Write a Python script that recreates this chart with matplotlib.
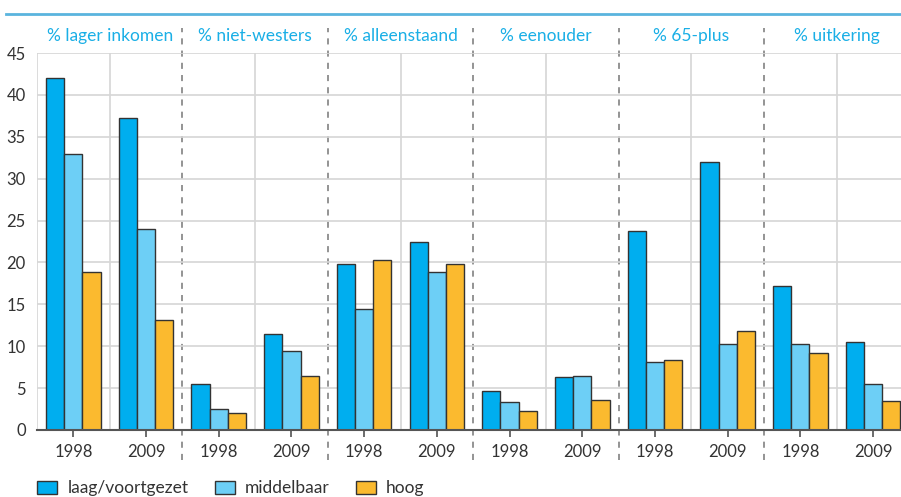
import matplotlib.pyplot as plt
import numpy as np
from matplotlib.patches import Patch
import matplotlib.transforms as mtransforms

plt.rcParams['font.family'] = ['Lato', 'DejaVu Sans']

# data
groups = ["% lager inkomen", "% niet-westers", "% alleenstaand",
          "% eenouder", "% 65-plus", "% uitkering"]
years = ["1998", "2009"]
series = ["laag/voortgezet", "middelbaar", "hoog"]

# per slot: (group, year) in order
laag = [42.0, 37.3, 5.5, 11.5, 19.8, 22.5, 4.7, 6.3, 23.8, 32.0, 17.2, 10.5]
middelbaar = [33.0, 24.0, 2.5, 9.4, 14.4, 18.9, 3.4, 6.4, 8.1, 10.3, 10.3, 5.5]
hoog = [18.9, 13.1, 2.0, 6.5, 20.3, 19.8, 2.3, 3.6, 8.4, 11.8, 9.2, 3.5]

colors = ["#00aeef", "#6dcff6", "#fbba2f"]
edge = "#333333"

fig = plt.figure(figsize=(9.01, 4.97), dpi=100)
ax = fig.add_axes([37/901, 1-430/497, 864/901, (430-53)/497])

n = len(laag)
x = np.arange(n) + 0.5
w = 0.25
for i, (vals, c, lab) in enumerate(zip([laag, middelbaar, hoog], colors, series)):
    ax.bar(x + (i-1)*w, vals, width=w, color=c, edgecolor=edge, linewidth=1.0,
           label=lab, zorder=3)

ax.set_ylim(0, 45)
ax.set_xlim(0, 864/72.7)
ax.set_yticks(range(0, 46, 5))
ax.yaxis.grid(True, color="#d6d6d6", linewidth=1.2, zorder=0)
ax.tick_params(axis='y', length=0, labelsize=12, colors="#333333", pad=8)

# vertical lines
trans = mtransforms.blended_transform_factory(ax.transData, ax.transAxes)
for k in range(0, n):
    if k % 2 == 1:
        ax.axvline(k, color="#d6d6d6", linewidth=1.2, zorder=0)
    elif k > 0:
        ax.plot([k, k], [-0.08, 1.065], transform=trans, color="#777777",
                linestyle=(0, (4, 4)), linewidth=1.1, clip_on=False, zorder=1)
ax.axvline(0, color="#d6d6d6", linewidth=1.2, zorder=0)

ax.set_xticks(x)
ax.set_xticklabels(years * len(groups))
ax.tick_params(axis='x', length=5, width=1.1, color="#444444", labelsize=12,
               labelcolor="#333333", pad=5)

for s in ["top", "right", "left"]:
    ax.spines[s].set_visible(False)
ax.spines["bottom"].set_color("#555555")
ax.spines["bottom"].set_linewidth(1.5)
ax.spines["bottom"].set_zorder(4)

# group headers
for g, name in enumerate(groups):
    ax.text(2*g + 1, 1.045, name, transform=trans, ha="center", va="center",
            color="#1aafe6", fontsize=12.5)

# top line
fig.add_artist(plt.Line2D([6/901, 1], [1-14/497, 1-14/497], color="#5ab4de",
                          linewidth=2))

handles = [Patch(facecolor=c, edgecolor=edge, linewidth=1.0) for c in colors]
fig.legend(handles, series, loc="lower left", bbox_to_anchor=(0.024, -0.03),
           ncol=3, frameon=False, fontsize=12.5, handlelength=1.15, handleheight=0.8,
           columnspacing=1.5, handletextpad=0.6, labelcolor="#333333")

fig.savefig("out.png", dpi=100)
